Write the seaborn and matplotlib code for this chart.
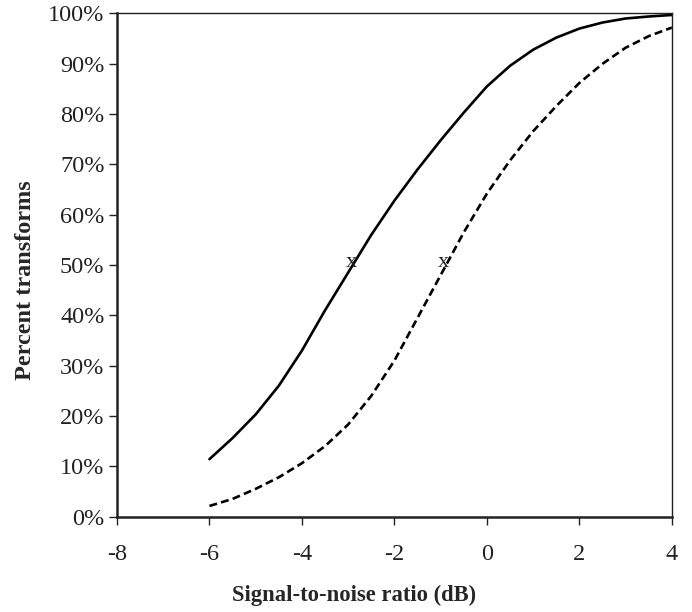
import matplotlib
matplotlib.use("Agg")
import matplotlib.pyplot as plt
import pandas as pd
import seaborn as sns
from matplotlib.ticker import PercentFormatter

# signal-to-noise ratio (dB) sample points
snr_db = [-6, -5.5, -5, -4.5, -4, -3.5, -3, -2.5, -2, -1.5, -1,
          -0.5, 0, 0.5, 1, 1.5, 2, 2.5, 3, 3.5, 4]
# percent transforms
solid_pct = [11.4, 15.6, 20.3, 26.0, 33.0, 41.0, 48.5, 56.0, 62.8, 69.0, 74.8,
             80.3, 85.5, 89.6, 92.8, 95.2, 97.0, 98.2, 99.0, 99.4, 99.7]
dashed_pct = [2.1, 3.5, 5.5, 7.8, 10.6, 14.0, 18.3, 24.0, 31.0, 39.5, 48.0,
              56.5, 64.2, 70.8, 76.6, 81.6, 86.2, 90.0, 93.2, 95.5, 97.2]
# 50% points marked with an "x"
mark_x = [-3, -1]
mark_y = [50, 50]

x_ticks = [-8, -6, -4, -2, 0, 2, 4]
y_ticks = [0, 10, 20, 30, 40, 50, 60, 70, 80, 90, 100]

df = pd.concat([
    pd.DataFrame({"snr": snr_db, "pct": solid_pct, "curve": "solid"}),
    pd.DataFrame({"snr": snr_db, "pct": dashed_pct, "curve": "dashed"}),
])

sns.set_style("ticks")
plt.rcParams["font.family"] = ["Liberation Serif", "DejaVu Serif"]
plt.rcParams["axes.unicode_minus"] = False

fig = plt.figure(figsize=(6.92, 6.12), dpi=100)
ax = fig.add_axes([0.169, 0.156, 0.802, 0.822])

sns.lineplot(data=df, x="snr", y="pct", style="curve", color="black",
             dashes={"solid": "", "dashed": (3, 1.6)}, linewidth=1.9,
             legend=False, ax=ax)

for mx, my in zip(mark_x, mark_y):
    ax.text(mx + 0.06, my + 0.5, "x", ha="center", va="center", fontsize=16, color="#222222")

ax.set_xlim(-8, 4)
ax.set_ylim(0, 100)
ax.set_xticks(x_ticks)
ax.set_yticks(y_ticks)
ax.yaxis.set_major_formatter(PercentFormatter(decimals=0))
ax.tick_params(axis="both", labelsize=17.5, colors="#222222", length=6, width=1)
ax.tick_params(axis="x", pad=14)
ax.tick_params(axis="y", pad=3)

for side in ["left", "bottom"]:
    ax.spines[side].set_linewidth(1.8)
for side in ["top", "right"]:
    ax.spines[side].set_visible(True)
    ax.spines[side].set_linewidth(1.0)
for s in ax.spines.values():
    s.set_color("#222222")

# labels in the source sit centred on the figure rather than the axes
ax.set_xlabel("Signal-to-noise ratio (dB)", fontsize=16.3, fontweight="bold")
ax.set_ylabel("Percent transforms", fontsize=17.5, fontweight="bold")
ax.xaxis.set_label_coords(0.428, -0.136)
ax.yaxis.set_label_coords(-0.146, 0.47)

fig.savefig("out.png", dpi=100)
